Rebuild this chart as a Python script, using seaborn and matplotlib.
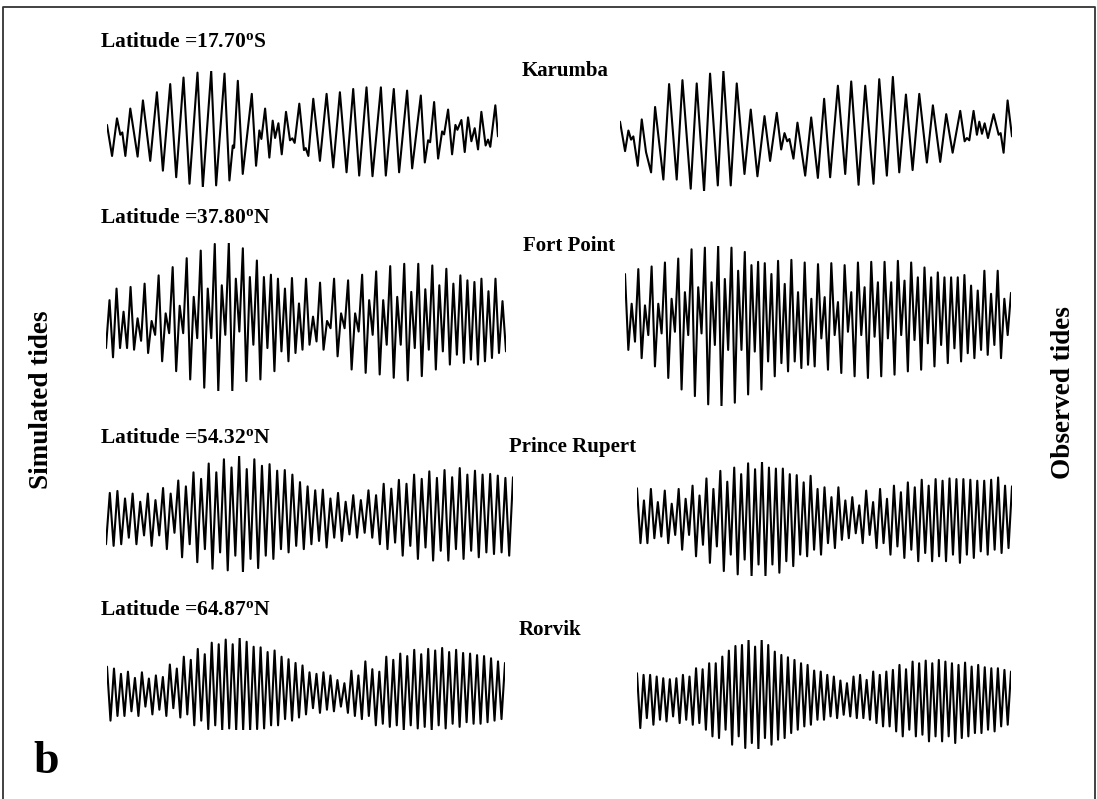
import numpy as np
import pandas as pd
import matplotlib
matplotlib.use("Agg")
import matplotlib.pyplot as plt
from matplotlib.lines import Line2D
import seaborn as sns

# ---------------------------------------------------------------------------
# Karumba (diurnal): times of turning points (days) and water level (cm)
# ---------------------------------------------------------------------------
karumba_sim_day = [0.0, 0.38, 0.75, 1.0, 1.15, 1.38, 1.75, 2.3, 2.7, 3.25, 3.75, 4.2, 4.75, 5.2,
                   5.75, 6.2, 6.8, 7.2, 7.83, 8.2, 8.83, 9.2, 9.45, 9.55, 9.83, 10.2, 10.88, 11.2,
                   11.45, 11.6, 11.88, 12.2, 12.45, 12.63, 12.88, 13.13, 13.45, 13.75, 13.93, 14.1,
                   14.45, 14.8, 14.93, 15.13, 15.5, 16.0, 16.5, 17.0, 17.5, 18.0, 18.5, 18.95, 19.5,
                   19.95, 20.58, 20.95, 21.55, 21.95, 22.55, 22.93, 23.58, 23.88, 24.13, 24.28, 24.58,
                   24.88, 25.18, 25.33, 25.63, 25.93, 26.18, 26.33, 26.63, 26.88, 27.13, 27.38, 27.63,
                   27.88, 28.13, 28.45, 28.63, 28.8, 29.18, 29.38]
karumba_sim_level = [15, -80, 35, -15, -8, -80, 65, -82, 90, -95, 115, -125, 140, -145,
                     160, -165, 175, -175, 180, -170, 172, -155, -48, -55, 150, -135, 110, -110,
                     -2, -28, 65, -85, 28, -25, 20, -75, 55, -32, -26, -40,
                     80, -62, -56, -80, 95, -95, 110, -115, 115, -130, 125, -140, 130,
                     -142, 130, -140, 125, -130, 120, -118, 105, -100, -32, -38, 85,
                     -88, -5, -14, 62, -75, 15, 0, 30, -68, 38, -35, 5,
                     -60, 55, -48, -30, -52, 75, -20]

karumba_obs_day = [0.0, 0.38, 0.63, 0.83, 1.0, 1.33, 1.63, 1.95, 2.33, 2.63, 3.25, 3.68, 4.25, 4.68,
                   5.3, 5.75, 6.3, 6.75, 7.33, 7.75, 8.3, 8.75, 9.33, 9.8, 10.3, 10.83, 11.25, 11.75,
                   12.08, 12.33, 12.53, 12.7, 13.0, 13.3, 13.88, 14.33, 14.83, 15.3, 15.75, 16.33,
                   16.88, 17.33, 17.88, 18.38, 19.0, 19.43, 20.0, 20.45, 20.93, 21.43, 21.93, 22.43,
                   23.0, 23.45, 24.0, 24.45, 24.93, 25.5, 25.83, 26.0, 26.18, 26.5, 26.75, 26.93,
                   27.13, 27.33, 27.58, 28.0, 28.38, 28.53, 28.75, 29.05, 29.38]
karumba_obs_level = [30, -60, 3, -25, -15, -105, 37, -63, -125, 75, -147, 145, -147, 157,
                     -175, 147, -182, 177, -165, 185, -165, 147, -130, 67, -137, 47, -90, 57,
                     -55, -5, -30, -23, -83, 27, -135, 43, -142, 100, -140, 140,
                     -130, 153, -163, 140, -160, 160, -135, 167, -125, 113, -118, 115,
                     -95, 80, -93, 53, -65, 63, -30, -20, -27, 63, -10, 30,
                     -7, 25, -20, 53, -10, -5, -65, 95, -15]

# ---------------------------------------------------------------------------
# Semidiurnal / mixed stations: successive high and low waters (cm)
# ---------------------------------------------------------------------------
fort_point_sim_low = [-90, -118, -90, -90, -95, -68, -105, -50, -130, -45, -160, -45, -185, -60,
                      -210, -60, -220, -50, -220, -40, -190, -80, -185, -90, -160, -100, -130, -105,
                      -95, -80, -70, -95, -30, -115, -30, -155, -40, -165, -50, -170, -80, -180,
                      -80, -188, -90, -175, -95, -155, -100, -140, -110, -135, -125, -140, -130,
                      -120, -105, -100]
fort_point_sim_high = [55, 90, 20, 95, 0, 105, -8, 130, 15, 155, 38, 182, 65, 205, 90, 225, 100,
                       228, 120, 212, 125, 175, 125, 132, 120, 90, 122, 45, 120, 5, 108, -8, 120,
                       15, 115, 15, 132, 55, 142, 55, 158, 65, 165, 80, 165, 88, 160, 100, 150,
                       105, 130, 115, 110, 120, 82, 120, 52]

fort_point_obs_high = [155, 65, 170, 60, 178, 65, 190, 80, 202, 100, 230, 115, 235, 130, 240, 140,
                       235, 165, 222, 182, 192, 188, 155, 195, 125, 198, 100, 190, 80, 185, 85, 188,
                       70, 182, 100, 190, 115, 192, 130, 192, 130, 195, 135, 190, 145, 175, 145,
                       160, 145, 145, 145, 152, 120, 105, 165, 95, 165, 80, 98]
fort_point_obs_low = [-75, -50, -100, -30, -125, -25, -160, -20, -195, -30, -215, -25, -240, -60,
                      -245, -75, -235, -75, -210, -80, -195, -110, -155, -115, -140, -110, -130,
                      -120, -125, -40, -135, -30, -145, -20, -155, -30, -160, -35, -155, -40, -150,
                      -30, -140, -45, -135, -55, -125, -60, -115, -70, -110, -85, -100, -75, -90,
                      -60, -100, -30]

prince_rupert_sim_low = [-85, -90, -85, -65, -85, -58, -90, -58, -100, -50, -125, -85, -140, -100,
                         -160, -110, -165, -120, -170, -130, -158, -120, -130, -100, -110, -90,
                         -100, -85, -75, -95, -65, -75, -55, -65, -50, -65, -85, -100, -80, -120,
                         -90, -130, -95, -135, -105, -135, -100, -130, -105, -125, -110, -115,
                         -110, -120]
prince_rupert_sim_high = [72, 78, 55, 70, 45, 70, 50, 87, 70, 110, 92, 135, 115, 162, 135, 175, 150,
                          185, 145, 175, 155, 160, 140, 142, 128, 105, 92, 80, 82, 55, 72, 45, 65,
                          50, 80, 65, 100, 85, 112, 100, 128, 115, 138, 118, 142, 120, 148, 128,
                          140, 128, 130, 125, 118, 120]

prince_rupert_obs_high = [87, 50, 85, 45, 80, 40, 85, 55, 95, 65, 117, 85, 140, 107, 150, 130, 163,
                          145, 167, 150, 147, 147, 130, 127, 105, 125, 85, 90, 60, 90, 50, 60, 35,
                          80, 45, 85, 55, 95, 75, 105, 90, 113, 95, 115, 110, 117, 115, 115, 113,
                          110, 110, 113, 120, 95, 93]
prince_rupert_obs_low = [-80, -80, -65, -60, -80, -55, -100, -55, -120, -85, -140, -90, -165, -115,
                         -175, -130, -180, -145, -180, -145, -170, -135, -150, -115, -120, -100,
                         -115, -80, -95, -70, -65, -50, -80, -55, -95, -80, -115, -90, -125, -100,
                         -135, -110, -135, -120, -135, -115, -140, -115, -125, -105, -115, -100,
                         -110, -95]

rorvik_sim_high = [83, 77, 60, 67, 47, 65, 45, 55, 50, 90, 77, 115, 105, 140, 123, 160, 155, 170,
                   155, 175, 163, 147, 145, 130, 135, 115, 107, 95, 87, 65, 60, 65, 55, 40, 30, 70,
                   55, 100, 75, 67, 115, 105, 125, 117, 137, 123, 140, 135, 143, 130, 137, 127,
                   125, 120, 117, 110, 100, 95]
rorvik_sim_low = [-90, -75, -75, -60, -75, -45, -70, -55, -75, -50, -80, -70, -105, -90, -117,
                  -105, -120, -115, -120, -120, -120, -117, -115, -105, -105, -85, -90, -80, -70,
                  -50, -65, -55, -60, -45, -65, -75, -85, -75, -105, -100, -110, -105, -120, -105,
                  -115, -110, -120, -105, -115, -100, -110, -95, -100, -100, -95, -90, -85]

rorvik_obs_high = [70, 65, 65, 60, 55, 52, 55, 65, 60, 85, 82, 100, 100, 120, 138, 152, 155, 170,
                   150, 170, 155, 135, 125, 118, 110, 100, 95, 78, 75, 65, 60, 48, 40, 60, 65, 50,
                   75, 65, 75, 80, 95, 82, 105, 100, 108, 100, 110, 105, 100, 95, 102, 90, 95, 88,
                   85, 85, 80, 75]
rorvik_obs_low = [-95, -65, -85, -70, -75, -60, -80, -70, -85, -80, -100, -120, -125, -100, -145,
                  -120, -155, -140, -158, -125, -145, -130, -125, -110, -100, -90, -85, -70, -70,
                  -60, -65, -55, -60, -65, -65, -70, -80, -90, -90, -105, -120, -100, -120, -115,
                  -135, -120, -135, -120, -140, -125, -120, -110, -110, -100, -105, -90, -85]

station_names = ["Karumba", "Fort Point", "Prince Rupert", "Rorvik"]
latitudes = ["17.70", "37.80", "54.32", "64.87"]
hemispheres = ["S", "N", "N", "N"]
side_labels = ["Simulated tides", "Observed tides"]
panel_letter = "b"


def alternate(first, second):
    """Merge two lists of turning points into one time-ordered sequence."""
    seq = []
    for i in range(max(len(first), len(second))):
        if i < len(first):
            seq.append(first[i])
        if i < len(second):
            seq.append(second[i])
    return seq


def semidiurnal_frame(first, second):
    level = alternate(first, second)
    # turning points roughly every half tidal cycle (~6.2 h)
    hours = np.arange(len(level)) * 6.21
    return pd.DataFrame({"t": hours, "level": level})


series = {
    ("Karumba", "sim"): pd.DataFrame({"t": karumba_sim_day, "level": karumba_sim_level}),
    ("Karumba", "obs"): pd.DataFrame({"t": karumba_obs_day, "level": karumba_obs_level}),
    ("Fort Point", "sim"): semidiurnal_frame(fort_point_sim_low, fort_point_sim_high),
    ("Fort Point", "obs"): semidiurnal_frame(fort_point_obs_high, fort_point_obs_low),
    ("Prince Rupert", "sim"): semidiurnal_frame(prince_rupert_sim_low, prince_rupert_sim_high),
    ("Prince Rupert", "obs"): semidiurnal_frame(prince_rupert_obs_high, prince_rupert_obs_low),
    ("Rorvik", "sim"): semidiurnal_frame(rorvik_sim_high, rorvik_sim_low),
    ("Rorvik", "obs"): semidiurnal_frame(rorvik_obs_high, rorvik_obs_low),
}

# panel boxes in figure pixels: left, top, right, bottom
W, H = 1097, 799
boxes = {
    ("Karumba", "sim"): (107, 71, 498, 187),
    ("Karumba", "obs"): (620, 71, 1012, 191),
    ("Fort Point", "sim"): (106, 243, 506, 391),
    ("Fort Point", "obs"): (625, 246, 1011, 406),
    ("Prince Rupert", "sim"): (106, 456, 513, 572),
    ("Prince Rupert", "obs"): (637, 462, 1012, 576),
    ("Rorvik", "sim"): (107, 638, 505, 730),
    ("Rorvik", "obs"): (637, 640, 1011, 749),
}

sns.set_theme(style="white")
plt.rcParams["font.family"] = ["Liberation Serif", "DejaVu Serif"]
plt.rcParams["mathtext.fontset"] = "custom"
plt.rcParams["mathtext.rm"] = "Liberation Serif:bold"
plt.rcParams["mathtext.it"] = "Liberation Serif:bold"
plt.rcParams["mathtext.bf"] = "Liberation Serif:bold"

fig = plt.figure(figsize=(W / 100, H / 100), dpi=100)
fig.patch.set_facecolor("white")

for key, df in series.items():
    l, t, r, b = boxes[key]
    ax = fig.add_axes([l / W, 1 - b / H, (r - l) / W, (b - t) / H])
    sns.lineplot(data=df, x="t", y="level", ax=ax, color="black", linewidth=1.5,
                 sort=False, estimator=None, solid_joinstyle="round",
                 solid_capstyle="round")
    ax.set_xlim(df["t"].min(), df["t"].max())
    ax.set_ylim(df["level"].min(), df["level"].max())
    ax.set_axis_off()

# station titles and latitude labels
lat_baselines = [47, 223, 443, 615]
name_pos = [(565, 76), (569, 251), (573, 452), (550, 635)]
for name, lat, hemi, yb, (nx, ny) in zip(station_names, latitudes, hemispheres,
                                         lat_baselines, name_pos):
    fig.text(100 / W, 1 - yb / H, f"Latitude =${lat}^{{\\mathrm{{o}}}}$" + hemi,
             ha="left", va="baseline", fontsize=15.5, fontweight="bold", color="black")
    fig.text(nx / W, 1 - ny / H, name, ha="center", va="baseline", fontsize=15,
             fontweight="bold", color="black")

fig.text(42 / W, 1 - 400 / H, side_labels[0], rotation=90, ha="center", va="center",
         fontsize=19.5, fontweight="bold", color="black")
fig.text(1063 / W, 1 - 393 / H, side_labels[1], rotation=90, ha="center", va="center",
         fontsize=19.5, fontweight="bold", color="black")
fig.text(33 / W, 1 - 773 / H, panel_letter, ha="left", va="baseline", fontsize=33,
         fontweight="bold", color="black")

# outer frame
frame_x = [2.5 / W, 2.5 / W, 1094.5 / W, 1094.5 / W]
frame_y = [0.0, 1 - 6.5 / H, 1 - 6.5 / H, 0.0]
fig.add_artist(Line2D(frame_x, frame_y, transform=fig.transFigure, color="#333333",
                      linewidth=1.3))

fig.savefig("out.png", dpi=100, facecolor="white")
